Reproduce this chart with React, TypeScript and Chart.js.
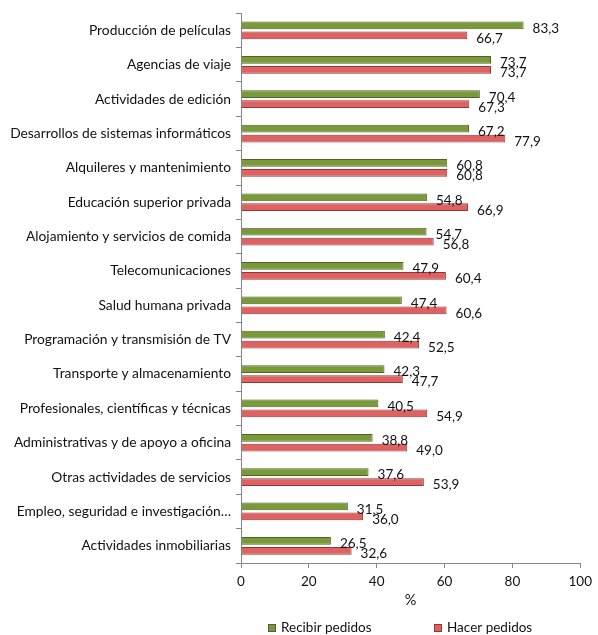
import React, { useEffect, useRef } from "react";
import { Chart, registerables } from "chart.js";

Chart.register(...registerables);

const categories = [
  "Producción de películas",
  "Agencias de viaje",
  "Actividades de edición",
  "Desarrollos de sistemas informáticos",
  "Alquileres y mantenimiento",
  "Educación superior privada",
  "Alojamiento y servicios de comida",
  "Telecomunicaciones",
  "Salud humana privada",
  "Programación y transmisión de TV",
  "Transporte y almacenamiento",
  "Profesionales, científicas y técnicas",
  "Administrativas y de apoyo a oficina",
  "Otras actividades de servicios",
  "Empleo, seguridad e investigación…",
  "Actividades inmobiliarias",
];

const recibirPedidos = [83.3, 73.7, 70.4, 67.2, 60.8, 54.8, 54.7, 47.9, 47.4, 42.4, 42.3, 40.5, 38.8, 37.6, 31.5, 26.5];
const hacerPedidos = [66.7, 73.7, 67.3, 77.9, 60.8, 66.9, 56.8, 60.4, 60.6, 52.5, 47.7, 54.9, 49.0, 53.9, 36.0, 32.6];

const seriesNames = ["Recibir pedidos", "Hacer pedidos"];
const xTicks = [0, 20, 40, 60, 80, 100];

const FONT = "Lato, 'Open Sans', sans-serif";
const GREEN = "#7A9A3A";
const GREEN_DARK = "#4F6228";
const RED = "#DE6262";
const RED_DARK = "#943634";

const valueLabels = {
  id: "valueLabels",
  afterDatasetsDraw(chart: any) {
    const ctx = chart.ctx;
    ctx.save();
    ctx.font = `13.5px ${FONT}`;
    ctx.fillStyle = "#111";
    ctx.textAlign = "left";
    ctx.textBaseline = "middle";
    chart.data.datasets.forEach((ds: any, di: number) => {
      const meta = chart.getDatasetMeta(di);
      meta.data.forEach((el: any, i: number) => {
        const v = ds.data[i] as number;
        ctx.fillText(v.toFixed(1).replace(".", ","), el.x + 9, el.y + 3);
      });
    });
    ctx.restore();
  },
};

const bottomLegend = {
  id: "bottomLegend",
  afterDraw(chart: any) {
    const ctx = chart.ctx;
    ctx.save();
    ctx.font = `13.5px ${FONT}`;
    ctx.textBaseline = "middle";
    ctx.textAlign = "left";
    const y = 628;
    const items = [
      { x: 268, fill: GREEN, stroke: GREEN_DARK, text: seriesNames[0] },
      { x: 434, fill: RED, stroke: RED_DARK, text: seriesNames[1] },
    ];
    items.forEach((it) => {
      ctx.fillStyle = it.fill;
      ctx.fillRect(it.x, y - 4, 8, 8);
      ctx.strokeStyle = it.stroke;
      ctx.lineWidth = 1;
      ctx.strokeRect(it.x + 0.5, y - 3.5, 7, 7);
      ctx.fillStyle = "#111";
      ctx.fillText(it.text, it.x + 13, y);
    });
    ctx.restore();
  },
};

export default function App() {
  const ref = useRef<HTMLCanvasElement>(null);
  useEffect(() => {
    if (!ref.current) return;
    const chart = new Chart(ref.current, {
      type: "bar",
      data: {
        labels: categories,
        datasets: [
          {
            label: seriesNames[0],
            data: recibirPedidos,
            backgroundColor: GREEN,
            borderColor: GREEN_DARK,
            borderWidth: 1,
            categoryPercentage: 0.58,
            barPercentage: 0.78,
          },
          {
            label: seriesNames[1],
            data: hacerPedidos,
            backgroundColor: RED,
            borderColor: RED_DARK,
            borderWidth: 1,
            categoryPercentage: 0.58,
            barPercentage: 0.78,
          },
        ],
      },
      options: {
        indexAxis: "y",
        animation: false,
        responsive: false,
        maintainAspectRatio: false,
        layout: { padding: { top: 10, right: 13, left: 0, bottom: 0 } },
        plugins: {
          legend: { display: false },
          tooltip: { enabled: false },
        },
        scales: {
          x: {
            min: 0,
            max: 100,
            afterBuildTicks: (s: any) => {
              s.ticks = xTicks.map((v) => ({ value: v }));
            },
            afterFit: (s: any) => {
              s.height = 72;
            },
            grid: { drawOnChartArea: false, drawTicks: true, tickLength: 5, color: "#888" },
            border: { display: true, color: "#888" },
            ticks: { font: { family: FONT, size: 13.5 }, color: "#111", padding: 6 },
            title: {
              display: true,
              text: "%",
              font: { family: FONT, size: 14.5 },
              color: "#111",
              padding: { top: 0, bottom: 26 },
            },
          },
          y: {
            afterFit: (s: any) => {
              s.width = 241;
            },
            grid: { drawOnChartArea: false, drawTicks: true, tickLength: 5, color: "#888", offset: true },
            border: { display: true, color: "#888" },
            ticks: { font: { family: FONT, size: 13.8 }, color: "#111", padding: 5, autoSkip: false },
          },
        },
      },
      plugins: [valueLabels, bottomLegend],
    } as any);
    return () => chart.destroy();
  }, []);
  return (
    <div style={{ position: "absolute", left: 0, top: 0, width: 598, height: 635, background: "#fff" }}>
      <canvas ref={ref} width={598} height={635} style={{ width: 598, height: 635 }} />
    </div>
  );
}
